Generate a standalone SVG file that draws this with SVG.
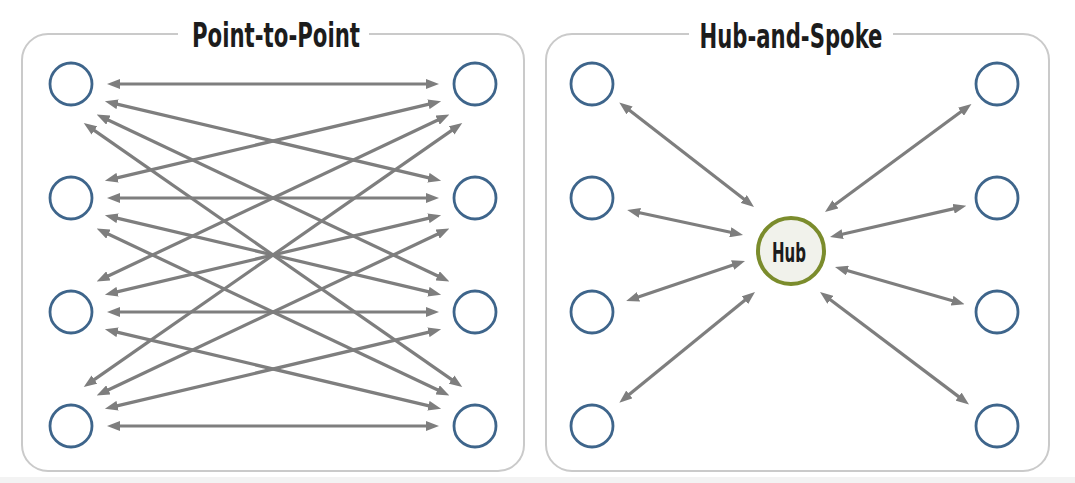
<svg xmlns="http://www.w3.org/2000/svg" width="1075" height="483" viewBox="0 0 1075 483">
<defs>
<marker id="ah" markerUnits="userSpaceOnUse" markerWidth="13" markerHeight="10" refX="5" refY="5" orient="auto-start-reverse" viewBox="0 0 13 10">
<path d="M0,0 L13,5 L0,10 z" fill="#7e7e7e"/>
</marker>
<style>
.panel{fill:#ffffff;stroke:#cacaca;stroke-width:2}
.gap{fill:#ffffff}
.title{font-family:"Liberation Sans Narrow","DejaVu Sans Condensed","DejaVu Sans",sans-serif;font-weight:bold;font-size:34px;fill:#1c1c1c;text-anchor:middle}
.node{fill:#ffffff;stroke:#3e658b;stroke-width:2.8}
.hub{fill:#f1f2eb;stroke:#7b8c2c;stroke-width:4}
.hubt{font-family:"Liberation Sans Narrow","DejaVu Sans Condensed","DejaVu Sans",sans-serif;font-weight:bold;font-size:27px;fill:#1c1c1c;text-anchor:middle}
.c line{stroke:#7e7e7e;stroke-width:3.2;marker-start:url(#ah);marker-end:url(#ah)}
</style>
</defs>
<rect x="0" y="0" width="1075" height="483" fill="#ffffff"/>
<rect x="0" y="477" width="1075" height="6" fill="#f3f3f3"/>

<g id="panel-p2p">
<rect class="panel" x="22" y="34" width="502" height="437" rx="26"/>
<rect class="gap" x="178" y="25" width="191" height="18"/>
<text class="title" x="276" y="47" textLength="168" lengthAdjust="spacingAndGlyphs">Point-to-Point</text>
</g>
<g id="panel-hub">
<rect class="panel" x="546" y="34" width="503" height="437" rx="26"/>
<rect class="gap" x="689" y="25" width="204" height="18"/>
<text class="title" x="791" y="48" textLength="183" lengthAdjust="spacingAndGlyphs">Hub-and-Spoke</text>
</g>

<g id="connectors" class="c">
<line x1="115" y1="84" x2="431" y2="84"/>
<line x1="115" y1="198" x2="431" y2="198"/>
<line x1="115" y1="312" x2="431" y2="312"/>
<line x1="115" y1="426" x2="431" y2="426"/>
<line x1="112.7" y1="103.1" x2="433.3" y2="178.9"/>
<line x1="112.7" y1="217.1" x2="433.3" y2="292.9"/>
<line x1="112.7" y1="331.1" x2="433.3" y2="406.9"/>
<line x1="112.7" y1="178.9" x2="433.3" y2="103.1"/>
<line x1="112.7" y1="292.9" x2="433.3" y2="217.1"/>
<line x1="112.7" y1="406.9" x2="433.3" y2="331.1"/>
<line x1="103.9" y1="118" x2="442.1" y2="278"/>
<line x1="103.9" y1="232" x2="442.1" y2="392"/>
<line x1="103.9" y1="278" x2="442.1" y2="118"/>
<line x1="103.9" y1="392" x2="442.1" y2="232"/>
<line x1="90.3" y1="127.6" x2="455.7" y2="382.4"/>
<line x1="90.3" y1="382.4" x2="455.7" y2="127.6"/>

<line x1="625.6" y1="107.3" x2="747.7" y2="202.1"/>
<line x1="635" y1="211.8" x2="735.2" y2="233.3"/>
<line x1="633.8" y1="298.4" x2="737.4" y2="263.5"/>
<line x1="625.5" y1="397.6" x2="748.8" y2="297.1"/>
<line x1="965" y1="108.8" x2="831.4" y2="207.3"/>
<line x1="958.5" y1="207.6" x2="837.8" y2="235.2"/>
<line x1="956.9" y1="302" x2="842.7" y2="269.2"/>
<line x1="962.6" y1="399.6" x2="826.4" y2="296.8"/>
</g>

<g id="p2p-left-1"><circle class="node" cx="71" cy="84" r="21"/></g>
<g id="p2p-left-2"><circle class="node" cx="71" cy="198" r="21"/></g>
<g id="p2p-left-3"><circle class="node" cx="71" cy="312" r="21"/></g>
<g id="p2p-left-4"><circle class="node" cx="71" cy="426" r="21"/></g>
<g id="p2p-right-1"><circle class="node" cx="475" cy="84" r="21"/></g>
<g id="p2p-right-2"><circle class="node" cx="475" cy="198" r="21"/></g>
<g id="p2p-right-3"><circle class="node" cx="475" cy="312" r="21"/></g>
<g id="p2p-right-4"><circle class="node" cx="475" cy="426" r="21"/></g>

<g id="hs-left-1"><circle class="node" cx="592" cy="84" r="21"/></g>
<g id="hs-left-2"><circle class="node" cx="592" cy="198" r="21"/></g>
<g id="hs-left-3"><circle class="node" cx="592" cy="312" r="21"/></g>
<g id="hs-left-4"><circle class="node" cx="592" cy="426" r="21"/></g>
<g id="hs-right-1"><circle class="node" cx="997" cy="84" r="21"/></g>
<g id="hs-right-2"><circle class="node" cx="997" cy="198" r="21"/></g>
<g id="hs-right-3"><circle class="node" cx="997" cy="312" r="21"/></g>
<g id="hs-right-4"><circle class="node" cx="997" cy="426" r="21"/></g>

<g id="hub">
<circle class="hub" cx="791" cy="251" r="33"/>
<text class="hubt" x="789" y="262" textLength="34" lengthAdjust="spacingAndGlyphs">Hub</text>
</g>
</svg>
